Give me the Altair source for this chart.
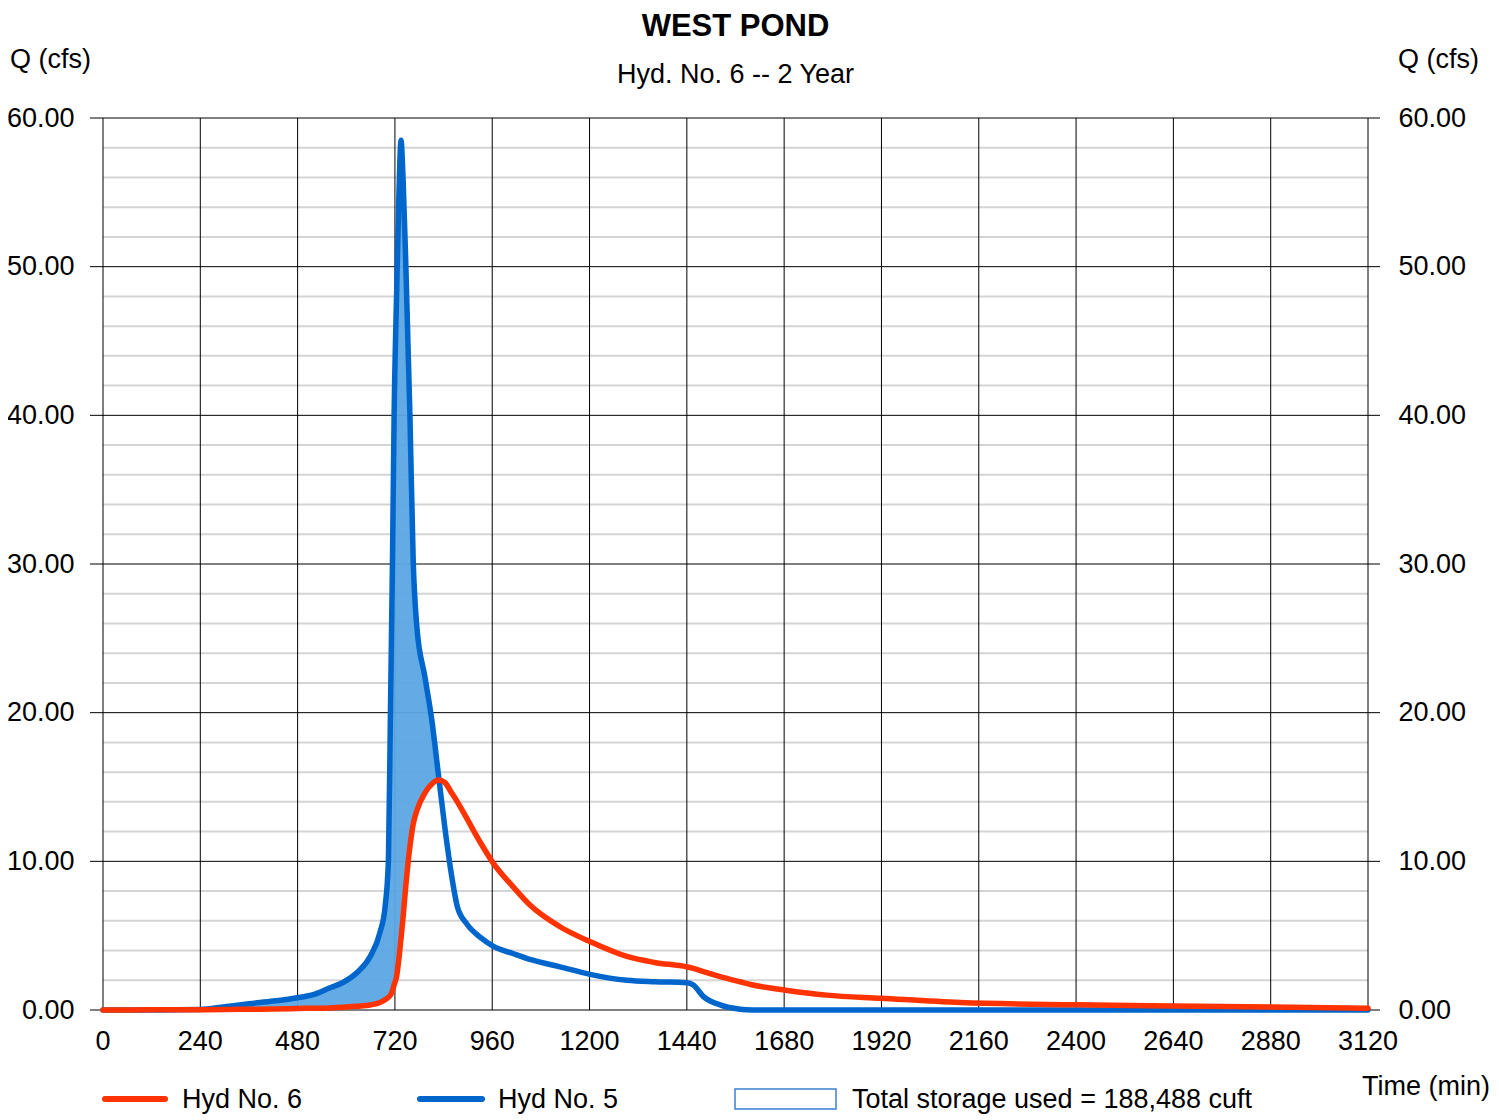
import altair as alt
import pandas as pd

time = [0, 120, 240, 300, 360, 420, 480, 520, 560, 592, 626, 659, 683, 696, 704, 709, 714, 718,
        724, 730, 735, 740, 747, 757, 765, 774, 794, 811, 827, 843, 860, 874, 897, 930, 962,
        1011, 1053, 1127, 1201, 1292, 1360, 1440, 1456, 1481, 1522, 1571, 1600, 1680, 1785,
        1919, 2114, 2400, 2640, 2880, 3120]
inflow = [0, 0, 0.03, 0.22, 0.42, 0.6, 0.82, 1.05, 1.5, 1.85, 2.5, 3.6, 5.2, 7.0, 10.1, 20.2, 30.3, 40,
          48, 55, 58.5, 56, 50, 40, 30.3, 25.8, 22.4, 19.5, 15.9, 12.3, 9.0, 6.95, 5.8, 4.9, 4.3,
          3.8, 3.4, 2.9, 2.4, 2.0, 1.9, 1.84, 1.68, 0.9, 0.34, 0.05, 0, 0, 0,
          0, 0, 0, 0, 0, 0]
outflow = [0, 0.01, 0.02, 0.03, 0.05, 0.07, 0.1, 0.12, 0.14, 0.18, 0.25, 0.34, 0.5, 0.7, 0.85, 1.0, 1.3, 1.7,
           2.24, 3.5, 4.8, 6.2, 8.4, 11.0, 12.5, 13.4, 14.6, 15.2, 15.47, 15.3, 14.6, 14.0, 12.9, 11.3, 9.9,
           8.3, 7.06, 5.6, 4.6, 3.6, 3.2, 2.9, 2.8, 2.58, 2.25, 1.9, 1.7, 1.35, 1.0,
           0.79, 0.5, 0.35, 0.27, 0.2, 0.12]

x_ticks = [0, 240, 480, 720, 960, 1200, 1440, 1680, 1920, 2160, 2400, 2640, 2880, 3120]
y_major = [0, 10, 20, 30, 40, 50, 60]
y_minor = [2, 4, 6, 8, 12, 14, 16, 18, 22, 24, 26, 28, 32, 34, 36, 38, 42, 44, 46, 48, 52, 54, 56, 58]

title_text = "WEST POND"
subtitle_text = "Hyd. No. 6 -- 2 Year"
y_title = "Q (cfs)"
x_title = "Time (min)"
legend_labels = ["Hyd No. 6", "Hyd No. 5", "Total storage used = 188,488 cuft"]

W, H = 1265, 892
FONT = "Liberation Sans"
FS = 27
RED = "#ff3300"
BLUE = "#0066cc"
FILL = "#5aa7e3"

df = pd.DataFrame({"time": time, "inflow": inflow, "outflow": outflow})
xs = alt.Scale(domain=[0, 3120], nice=False, zero=False)
ys = alt.Scale(domain=[0, 60], nice=False, zero=False)

minor = alt.Chart(pd.DataFrame({"q": y_minor})).mark_rule(color="#d4d4d4", strokeWidth=2).encode(
    y=alt.Y("q:Q", scale=ys, axis=None), x=alt.value(0), x2=alt.value(W))
major = alt.Chart(pd.DataFrame({"q": y_major})).mark_rule(color="black", strokeWidth=1).encode(
    y=alt.Y("q:Q", scale=ys, axis=None), x=alt.value(-13), x2=alt.value(W + 12))
vert = alt.Chart(pd.DataFrame({"t": x_ticks})).mark_rule(color="black", strokeWidth=1).encode(
    x=alt.X("t:Q", scale=xs, axis=None), y=alt.value(0), y2=alt.value(H))

# x tick labels
xlab = alt.Chart(pd.DataFrame({"t": x_ticks})).mark_text(
    align="center", baseline="alphabetic", fontSize=FS, font=FONT, color="black").encode(
    x=alt.X("t:Q", scale=xs, axis=None), y=alt.value(H + 40), text=alt.Text("t:Q", format="d"))

area = alt.Chart(df).transform_calculate(
    lower="min(datum.inflow, datum.outflow)"
).mark_area(color=FILL, interpolate="monotone", opacity=0.95).encode(
    x=alt.X("time:Q", scale=xs, axis=None),
    y=alt.Y("inflow:Q", scale=ys, axis=None),
    y2="lower:Q")

common_axis = dict(title=None, grid=False, domain=False, ticks=False, tickSize=0,
                   labelFontSize=FS, labelFont=FONT, labelColor="black",
                   labelFlush=False, labelOverlap=False)

blue = alt.Chart(df).mark_line(color=BLUE, strokeWidth=5.5, interpolate="monotone",
                               strokeCap="round", strokeJoin="round").encode(
    x=alt.X("time:Q", scale=xs, axis=None),
    y=alt.Y("inflow:Q", scale=ys, axis=alt.Axis(orient="left", values=y_major, format=".2f",
                                                labelPadding=29, **common_axis)))

red = alt.Chart(df).mark_line(color=RED, strokeWidth=5.5, interpolate="monotone",
                              strokeCap="round", strokeJoin="round").encode(
    x=alt.X("time:Q", scale=xs, axis=None),
    y=alt.Y("outflow:Q", scale=ys, axis=alt.Axis(orient="right", values=y_major, format=".2f",
                                                 labelPadding=30, **common_axis)))


def txt(s, x, y, size=FS, bold=False, align="left"):
    return alt.Chart(pd.DataFrame({"s": [s]})).mark_text(
        align=align, baseline="alphabetic", fontSize=size, font=FONT,
        fontWeight="bold" if bold else "normal", color="black").encode(
        text="s:N", x=alt.value(x), y=alt.value(y))


def legline(color, x1, x2, y):
    return alt.Chart(pd.DataFrame({"a": [0]})).mark_rule(
        color=color, strokeWidth=6, strokeCap="round").encode(
        x=alt.value(x1), x2=alt.value(x2), y=alt.value(y))


LEG_Y = 990
legbox = alt.Chart(pd.DataFrame({"a": [0]})).mark_rect(
    fill="white", stroke="#3a80d0", strokeWidth=1.5).encode(
    x=alt.value(632), x2=alt.value(733), y=alt.value(LEG_Y - 19), y2=alt.value(LEG_Y + 1))

texts = [
    txt(title_text, W / 2, -82, size=31, bold=True, align="center"),
    txt(subtitle_text, W / 2, -35, align="center"),
    txt(y_title, -93, -50),
    txt(y_title, 1295, -50),
    txt(x_title, 1387, 977, align="right"),
    txt(legend_labels[0], 79, LEG_Y),
    txt(legend_labels[1], 395, LEG_Y),
    txt(legend_labels[2], 749, LEG_Y),
]

chart = alt.layer(
    minor, major, vert, area, blue, red, xlab,
    legline(RED, 2, 62, LEG_Y - 9), legline(BLUE, 317, 379, LEG_Y - 9), legbox,
    *texts
).resolve_axis(y="independent").properties(
    width=W, height=H,
    padding={"left": 95, "top": 110, "right": 123, "bottom": 104},
    autosize=alt.AutoSizeParams(type="none"),
).configure_view(stroke=None)

chart.save("out.html", embed_options={"renderer": "svg", "actions": False})
